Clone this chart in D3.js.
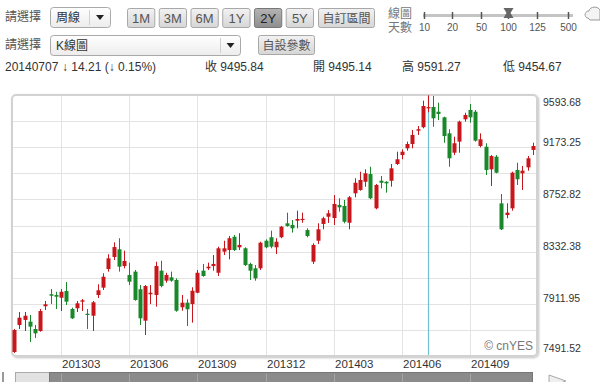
<!DOCTYPE html>
<html><head><meta charset="utf-8">
<script src="https://cdn.jsdelivr.net/npm/d3@7"></script>
<style>
html,body{margin:0;padding:0;background:#fff;overflow:hidden;}
svg{display:block;font-family:"Liberation Sans","Noto Sans CJK TC",Arial,sans-serif;}
</style></head><body>
<svg id="c" width="600" height="382"></svg>
<script>
// ---------- data ----------
const weeks = [
"20121231","20130107","20130114","20130121","20130128","20130204","20130211","20130218","20130225","20130304",
"20130311","20130318","20130325","20130401","20130408","20130415","20130422","20130429","20130506","20130513",
"20130520","20130527","20130603","20130610","20130617","20130624","20130701","20130708","20130715","20130722",
"20130729","20130805","20130812","20130819","20130826","20130902","20130909","20130916","20130923","20130930",
"20131007","20131014","20131021","20131028","20131104","20131111","20131118","20131125","20131202","20131209",
"20131216","20131223","20131230","20140106","20140113","20140120","20140127","20140203","20140210","20140217",
"20140224","20140303","20140310","20140317","20140324","20140331","20140407","20140414","20140421","20140428",
"20140505","20140512","20140519","20140526","20140602","20140609","20140616","20140623","20140630","20140707",
"20140714","20140721","20140728","20140804","20140811","20140818","20140825","20140901","20140908","20140915",
"20140922","20140929","20141006","20141013","20141020","20141027","20141103","20141110","20141117","20141124"];
const opens = [
7524,7741,7782,7768,7709,7693,7892,7989,7983,7961,
8015,7870,7876,7929,7832,7816,7983,8042,8192,8289,
8351,8216,8144,8171,8029,7776,7989,7983,8179,8098,
8125,8104,7884,7921,7910,8001,8179,8198,8216,8162,
8332,8345,8452,8367,8359,8233,8198,8198,8420,8448,
8367,8448,8560,8547,8581,8591,8506,8251,8420,8555,
8613,8603,8708,8700,8565,8802,8829,8895,8957,8681,
8903,8895,8903,9038,9110,9164,9199,9306,9334,9495.14,
9497,9459,9414,9285,9129,9218,9398,9473,9459,9183,
9177,8995,9097,8721,8627,8681,8990,8963,9011,9151];
const highs = [
7709,7846,7846,7822,7741,7870,7935,8031,8009,8031,
8088,7881,7935,7951,7870,7935,8069,8158,8311,8407,
8440,8340,8243,8184,8063,8063,8063,8251,8259,8162,
8171,8117,7983,7948,8045,8184,8233,8243,8305,8372,
8420,8458,8466,8480,8367,8243,8224,8412,8431,8501,
8440,8539,8646,8587,8662,8646,8520,8399,8560,8613,
8667,8788,8762,8748,8780,8923,8976,8995,9016,8877,
8941,8899,9038,9137,9156,9218,9312,9344,9548,9591.27,
9586,9532,9419,9318,9258,9387,9451,9521,9473,9285,
9205,9110,9110,8796,8721,8976,9048,9022,9102,9209];
const lows = [
7516,7709,7693,7604,7637,7687,7862,7910,7870,7854,
7902,7790,7846,7854,7709,7693,7959,8023,8171,8265,
8171,8198,8063,7937,7741,7661,7910,7889,8045,8082,
8090,7848,7856,7733,7760,7997,8130,8184,8179,8136,
8305,8270,8337,8345,8216,8104,8098,8184,8359,8359,
8313,8440,8533,8485,8520,8565,8448,8233,8394,8512,
8563,8547,8654,8560,8512,8770,8823,8855,8754,8673,
8842,8807,8855,9030,9076,9145,9164,9272,9325,9454.67,
9338,9392,9209,9016,9110,9129,9379,9371,9218,9172,
8949,8861,8963,8506,8601,8662,8869,8829,8984,9110];
const closes = [
7701,7800,7816,7728,7674,7854,7908,7977,7969,8009,
7929,7795,7916,7940,7822,7924,8021,8130,8278,8369,
8211,8257,8090,7943,7795,8055,8001,8216,8055,8144,
8098,7856,7921,7868,8017,8162,8136,8211,8233,8359,
8359,8440,8345,8386,8224,8179,8117,8404,8367,8372,
8412,8533,8539,8520,8595,8596,8458,8386,8512,8601,
8641,8716,8689,8573,8770,8887,8909,8963,8762,8869,
8887,8882,9003,9076,9137,9199,9272,9318,9505,9495.84,
9406,9441,9263,9084,9205,9379,9433,9414,9226,9237,
8990,9102,8968,8512,8646,8968,8915,8984,9084,9183];
const yTickLabels = [7491.52, 7911.95, 8332.38, 8752.82, 9173.25, 9593.68];
const xTickLabels = ["201303","201306","201309","201312","201403","201406","201409"];
const rangeButtons = ["1M","3M","6M","1Y","2Y","5Y"];
const selectedRange = "2Y";
const sliderLabels = ["10","20","50","100","125","500"];
const selectedSlider = "100";
const selectedWeek = "20140707";
const infoTexts = ["20140707","\u2193 14.21 (\u2193 0.15%)","收 9495.84","開 9495.14","高 9591.27","低 9454.67"];

// ---------- chart ----------
const svg = d3.select("#c");
svg.append("rect").attr("width",600).attr("height",382).attr("fill","#fff");
const defs = svg.append("defs");
const g1 = defs.append("linearGradient").attr("id","btn").attr("x1",0).attr("y1",0).attr("x2",0).attr("y2",1);
g1.append("stop").attr("offset","0").attr("stop-color","#f2f2f2");
g1.append("stop").attr("offset","1").attr("stop-color","#d6d6d6");
const g2 = defs.append("linearGradient").attr("id","btnSel").attr("x1",0).attr("y1",0).attr("x2",0).attr("y2",1);
g2.append("stop").attr("offset","0").attr("stop-color","#b4b4b4");
g2.append("stop").attr("offset","1").attr("stop-color","#8e8e8e");
const g3 = defs.append("linearGradient").attr("id","sel").attr("x1",0).attr("y1",0).attr("x2",0).attr("y2",1);
g3.append("stop").attr("offset","0").attr("stop-color","#ffffff");
g3.append("stop").attr("offset","1").attr("stop-color","#ececec");
const sh = defs.append("filter").attr("id","shadow").attr("x","-5%").attr("y","-5%").attr("width","110%").attr("height","110%");
sh.append("feGaussianBlur").attr("in","SourceAlpha").attr("stdDeviation",1.2);
sh.append("feOffset").attr("dx",1).attr("dy",1).attr("result","b");
sh.append("feComponentTransfer").append("feFuncA").attr("type","linear").attr("slope",0.25);
const mg = sh.append("feMerge"); mg.append("feMergeNode"); mg.append("feMergeNode").attr("in","SourceGraphic");

const txtCol = "#444";
// header row 1
function label(x,y,t,size,col,anchor){
  return svg.append("text").attr("x",x).attr("y",y).attr("dy","0.35em").attr("font-size",size||12)
    .attr("fill",col||txtCol).attr("text-anchor",anchor||"start").text(t);
}
function selectBox(x,y,w,h,t,divX){
  svg.append("rect").attr("x",x+0.5).attr("y",y+0.5).attr("width",w).attr("height",h).attr("rx",3)
    .attr("fill","url(#sel)").attr("stroke","#a9a9a9");
  svg.append("line").attr("x1",divX+0.5).attr("x2",divX+0.5).attr("y1",y+3).attr("y2",y+h-2).attr("stroke","#d0d0d0");
  label(x+6,y+h/2+0.5,t,12,"#333");
  const ax = (divX + x + w)/2 + 0.5, ay = y + h/2;
  svg.append("path").attr("d",`M${ax-4},${ay-2}L${ax+4},${ay-2}L${ax},${ay+3}Z`).attr("fill","#222");
}
label(5,17,"請選擇",12,"#555");
selectBox(50,7,60,20,"周線",89);
label(5,45,"請選擇",12,"#555");
selectBox(50,35,190,20,"K線圖",220);

const btnX = d3.scaleBand().domain(rangeButtons).range([127,313]).paddingInner(0.14);
const btns = svg.selectAll("g.btn").data(rangeButtons).join("g").attr("class","btn");
btns.append("rect").attr("x",d=>btnX(d)+0.5).attr("y",8.5).attr("width",btnX.bandwidth()).attr("height",19).attr("rx",2)
  .attr("fill",d=>d===selectedRange?"url(#btnSel)":"url(#btn)").attr("stroke",d=>d===selectedRange?"#777":"#a8a8a8");
btns.append("text").attr("x",d=>btnX(d)+btnX.bandwidth()/2+0.5).attr("y",18).attr("dy","0.35em")
  .attr("text-anchor","middle").attr("font-size",13).attr("fill",d=>d===selectedRange?"#222":"#555").text(d=>d);
function plainBtn(x,y,w,h,t){
  svg.append("rect").attr("x",x+0.5).attr("y",y+0.5).attr("width",w).attr("height",h).attr("rx",2)
    .attr("fill","url(#btn)").attr("stroke","#a8a8a8");
  label(x+w/2+0.5,y+h/2+1,t,12,"#555","middle");
}
plainBtn(318,8,56,19,"自訂區間");
plainBtn(258,35,56,19,"自設參數");
label(400,14,"線圖",12,"#777","middle");
label(400,28,"天數",12,"#777","middle");

// slider
const sx = d3.scalePoint().domain(sliderLabels).range([424,568]);
const sxPos = {"10":424,"20":452,"50":481,"100":508,"125":537,"500":568};
svg.append("line").attr("x1",423).attr("x2",573).attr("y1",15.5).attr("y2",15.5).attr("stroke","#c4c4c4").attr("stroke-width",3);
svg.selectAll("line.stick").data(sliderLabels).join("line").attr("class","stick")
  .attr("x1",d=>sxPos[d]+0.5).attr("x2",d=>sxPos[d]+0.5).attr("y1",12).attr("y2",19).attr("stroke","#555").attr("stroke-width",1.5);
svg.selectAll("text.slab").data(sliderLabels).join("text").attr("class","slab")
  .attr("x",d=>sxPos[d]+0.5).attr("y",27).attr("dy","0.35em").attr("text-anchor","middle")
  .attr("font-size",10).attr("fill","#555").text(d=>d);
{ const mx = sxPos[selectedSlider]+0.5;
  svg.append("path").attr("d",`M${mx-5},8L${mx+5},8L${mx+2},13L${mx+5},18L${mx-5},18L${mx-2},13Z`).attr("fill","#666"); }
// icon
svg.append("path").attr("d","M588,18 C584,18 584,11 589,11 C590,6 598,6 600,10 L600,20 L590,20 Z")
  .attr("fill","#f4f4f4").attr("stroke","#999");

// info row
const infoX = [5,62,205,313,402,503];
svg.selectAll("text.info").data(infoTexts).join("text").attr("class","info")
  .attr("x",(d,i)=>infoX[i]).attr("y",67).attr("dy","0.35em").attr("font-size",12).attr("fill","#333").text(d=>d);

// plot
const plot = {l:12, r:537, t:95, b:356};
const y = d3.scaleLinear().domain([yTickLabels[0], yTickLabels[yTickLabels.length-1]]).range([plot.b, plot.t]);
const x = d3.scaleBand().domain(weeks).range([11.4, 535.4]);
const cx = d => x(d) + x.bandwidth()/2;

svg.append("rect").attr("x",plot.l).attr("y",plot.t).attr("width",plot.r-plot.l).attr("height",plot.b-plot.t)
  .attr("rx",4).attr("fill","#fff").attr("stroke","#d2d2d2").attr("stroke-width",2).attr("filter","url(#shadow)");

// horizontal grid: every labelled level and midpoints
const yMin = yTickLabels[0], yMax = yTickLabels[yTickLabels.length-1];
const gridVals = d3.range(1,10).map(k => yMin + (yMax-yMin)*k/10);
svg.append("g").selectAll("line").data(gridVals).join("line")
  .attr("x1",plot.l+1).attr("x2",plot.r-1).attr("y1",d=>Math.round(y(d))+0.5).attr("y2",d=>Math.round(y(d))+0.5)
  .attr("stroke","#e3e3e3");
// vertical grid at first week of labelled months
const tickWeeks = xTickLabels.map(m => weeks.find(w => w.slice(0,6)===m));
svg.append("g").selectAll("line").data(tickWeeks).join("line")
  .attr("x1",d=>Math.round(cx(d))+0.5).attr("x2",d=>Math.round(cx(d))+0.5).attr("y1",plot.t+1).attr("y2",plot.b-1)
  .attr("stroke","#e3e3e3");

// crosshair
svg.append("line").attr("x1",Math.round(cx(selectedWeek))+0.5).attr("x2",Math.round(cx(selectedWeek))+0.5)
  .attr("y1",plot.t+1).attr("y2",plot.b-1).attr("stroke","#6fc0d2").attr("stroke-width",1.2);

// candles
const data = weeks.map((w,i)=>({w,o:opens[i],h:highs[i],l:lows[i],c:closes[i]}));
const up = "#c8161d", down = "#19872a";
const col = d => d.c >= d.o ? up : down;
const cg = svg.append("g");
cg.selectAll("line").data(data).join("line")
  .attr("x1",d=>Math.round(cx(d.w))+0.5).attr("x2",d=>Math.round(cx(d.w))+0.5)
  .attr("y1",d=>y(d.h)).attr("y2",d=>y(d.l)).attr("stroke",col).attr("stroke-width",1);
cg.selectAll("rect").data(data).join("rect")
  .attr("x",d=>Math.round(cx(d.w))-1.5).attr("width",4)
  .attr("y",d=>y(Math.max(d.o,d.c))).attr("height",d=>Math.max(1.2, Math.abs(y(d.o)-y(d.c))))
  .attr("fill",col);

// y labels
svg.append("g").selectAll("text").data(yTickLabels).join("text")
  .attr("x",543).attr("y",d=>Math.min(Math.max(y(d)-5,102),348)).attr("dy","0.35em")
  .attr("font-size",10.5).attr("fill","#333").text(d=>d.toFixed(2));
// x labels
svg.append("g").selectAll("text").data(xTickLabels).join("text")
  .attr("x",(d,i)=>Math.round(cx(tickWeeks[i]))+1).attr("y",364).attr("dy","0.35em")
  .attr("font-size",11.5).attr("fill","#333").text(d=>d);

// copyright
svg.append("text").attr("x",533).attr("y",346).attr("dy","0.35em").attr("text-anchor","end")
  .attr("font-size",12).attr("fill","#777").text("\u00a9 cnYES");

// scrollbar
svg.append("rect").attr("x",2).attr("y",372).attr("width",2).attr("height",10).attr("fill","#999");
svg.append("rect").attr("x",15.5).attr("y",372.5).attr("width",34).attr("height",12).attr("fill","#e2e2e2").attr("stroke","#aaa");
svg.append("rect").attr("x",49.5).attr("y",372.5).attr("width",483).attr("height",12).attr("fill","#8b8b8b").attr("stroke","#777");
svg.append("g").selectAll("line").data(tickWeeks).join("line")
  .attr("x1",d=>Math.round(cx(d))+0.5).attr("x2",d=>Math.round(cx(d))+0.5).attr("y1",374).attr("y2",382)
  .attr("stroke","#a5a5a5");
svg.append("path").attr("d","M549,375 L566,381 L549,387 Z").attr("fill","#eee").attr("stroke","#aaa");
</script>
</body></html>
